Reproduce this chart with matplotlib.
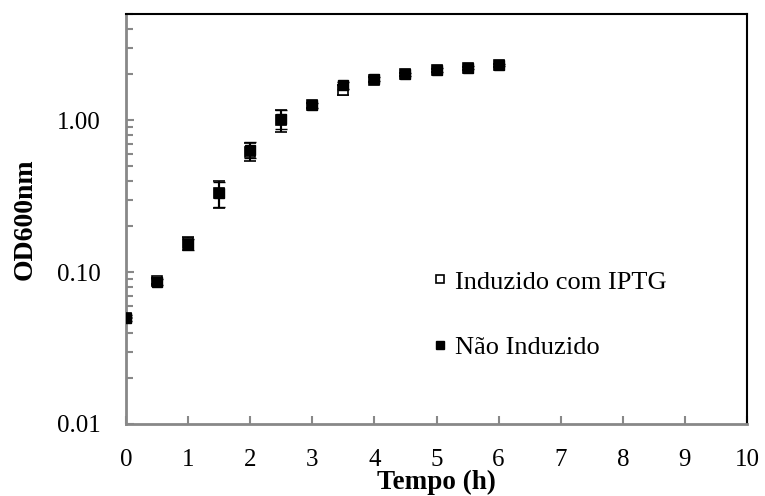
import matplotlib
matplotlib.use("Agg")
import matplotlib.pyplot as plt
from matplotlib.lines import Line2D
from matplotlib.ticker import FixedLocator, FixedFormatter, LogLocator, NullFormatter

tempo = [0, 0.5, 1, 1.5, 2, 2.5, 3, 3.5, 4, 4.5, 5, 5.5, 6]
induzido = [0.050, 0.087, 0.155, 0.33, 0.62, 1.00, 1.25, 1.58, 1.85, 2.00, 2.13, 2.20, 2.30]
induzido_err = [0.002, 0.004, 0.015, 0.065, 0.085, 0.16, 0.04, 0.12, 0.06, 0.05, 0.05, 0.05, 0.05]
nao_induzido = [0.050, 0.086, 0.152, 0.33, 0.64, 1.02, 1.25, 1.70, 1.87, 2.01, 2.14, 2.21, 2.31]
nao_induzido_err = [0.002, 0.004, 0.013, 0.06, 0.08, 0.15, 0.04, 0.09, 0.06, 0.05, 0.05, 0.05, 0.05]

y_ticks = [0.01, 0.1, 1.0]
y_ticklabels = ["0.01", "0.10", "1.00"]
x_ticks = list(range(0, 11))

plt.rcParams['font.family'] = ['Liberation Serif', 'DejaVu Serif']

fig = plt.figure(figsize=(7.65, 4.96), dpi=100)
ax = fig.add_axes([126/765, 1-424/496, (747-126)/765, (424-14)/496])

ax.errorbar(tempo, induzido, yerr=induzido_err, fmt='s', ms=7, mfc='white', mec='black',
            mew=1.2, ecolor='black', elinewidth=1.5, capsize=4, capthick=1.5, zorder=3)
ax.errorbar(tempo, nao_induzido, yerr=nao_induzido_err, fmt='s', ms=7, mfc='black', mec='black',
            mew=1.0, ecolor='black', elinewidth=1.5, capsize=4, capthick=1.5, zorder=4)

ax.set_yscale('log')
ax.set_ylim(0.01, 5)
ax.set_xlim(0, 10)
ax.yaxis.set_major_locator(FixedLocator(y_ticks))
ax.yaxis.set_major_formatter(FixedFormatter(y_ticklabels))
ax.yaxis.set_minor_locator(LogLocator(base=10, subs=range(2, 10)))
ax.yaxis.set_minor_formatter(NullFormatter())
ax.set_xticks(x_ticks)

ax.tick_params(axis='both', which='both', direction='in', color='#888888', width=1.5,
               labelsize=18, right=False, top=False)
ax.tick_params(axis='y', which='major', length=6, pad=18)
ax.tick_params(axis='y', which='minor', length=5)
ax.tick_params(axis='x', which='major', length=6, pad=18)

for s in ['left', 'bottom']:
    ax.spines[s].set_color('#888888')
    ax.spines[s].set_linewidth(2)
for s in ['top', 'right']:
    ax.spines[s].set_color('black')
    ax.spines[s].set_linewidth(1.5)

ax.set_xlabel('Tempo (h)', fontsize=19.5, fontweight='bold', labelpad=-1)
ax.set_ylabel('OD600nm', fontsize=20, fontweight='bold', labelpad=14)

handles = [Line2D([], [], ls='none', marker='s', ms=5.5, mfc='white', mec='black', mew=1.2),
           Line2D([], [], ls='none', marker='s', ms=5.5, mfc='black', mec='black', mew=1.0)]
labels = ['Induzido com IPTG', 'Não Induzido']
ax.legend(handles, labels, loc='upper left', bbox_to_anchor=(0.493, 0.375), frameon=False,
          fontsize=19, handlelength=0.6, handletextpad=0.25, labelspacing=1.6,
          borderpad=0, borderaxespad=0)

fig.savefig('out.png', dpi=100)
